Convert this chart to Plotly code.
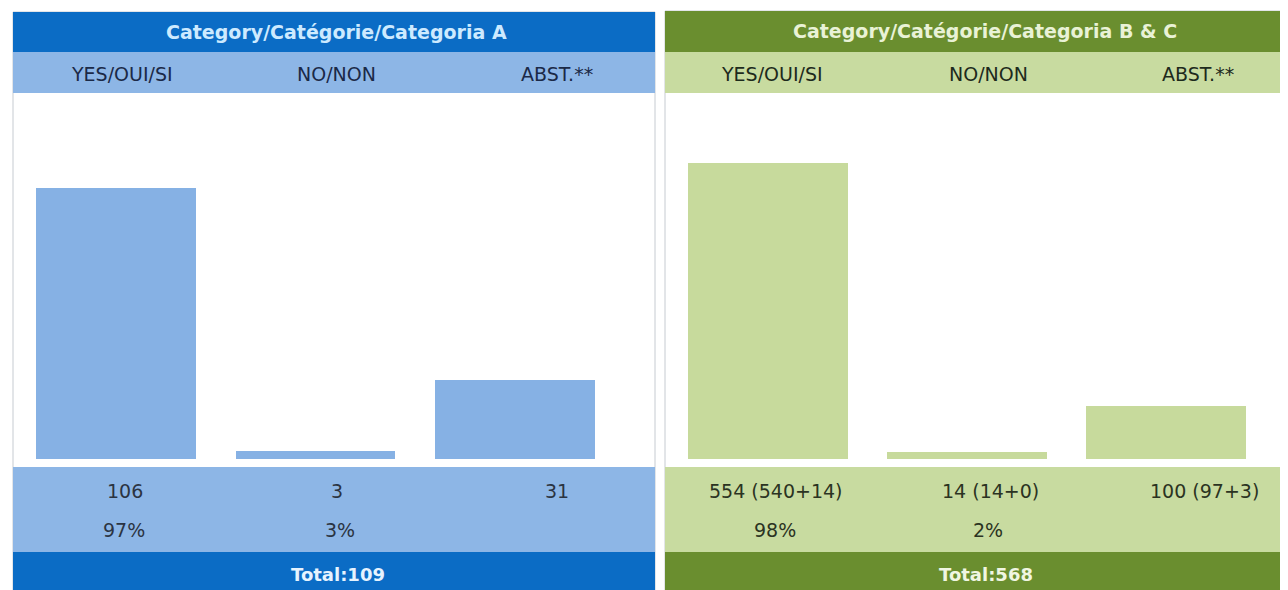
import plotly.graph_objects as go

# ---- data ----
categories = ["YES/OUI/SI", "NO/NON", "ABST.**"]
a_values = [106, 3, 31]
bc_values = [554, 14, 100]
a_value_labels = ["106", "3", "31"]
bc_value_labels = ["554 (540+14)", "14 (14+0)", "100 (97+3)"]
a_pct_labels = ["97%", "3%", ""]
bc_pct_labels = ["98%", "2%", ""]
a_title = "Category/Catégorie/Categoria A"
bc_title = "Category/Catégorie/Categoria B & C"
a_total = "Total:109"
bc_total = "Total:568"

# page body has an 8px margin; figure fills the rest of the 1288x590 window
OFF = 8
W, H = 1288 - OFF, 590 - OFF
FONT = "DejaVu Sans, Verdana, sans-serif"

BLUE_DARK = "#0b6cc5"
BLUE_LIGHT = "#8db6e6"
BLUE_BAR = "#86b1e4"
GREEN_DARK = "#6a8e2f"
GREEN_LIGHT = "#c8dba0"
GREEN_BAR = "#c7da9c"


def px(x):
    return (x - OFF) / W


def py(y):
    return 1 - (y - OFF) / H


fig = go.Figure()
fig.add_trace(go.Bar(x=categories, y=a_values, width=0.8, marker=dict(color=BLUE_BAR, line=dict(width=0)),
                     xaxis="x", yaxis="y", hoverinfo="x+y"))
fig.add_trace(go.Bar(x=categories, y=bc_values, width=0.8, marker=dict(color=GREEN_BAR, line=dict(width=0)),
                     xaxis="x2", yaxis="y2", hoverinfo="x+y"))

shapes = []
panels = [
    dict(x0=13, x1=655, dark=BLUE_DARK, light=BLUE_LIGHT, top=12),
    dict(x0=665, x1=1292, dark=GREEN_DARK, light=GREEN_LIGHT, top=11),
]
for p in panels:
    shapes.append(dict(type="rect", xref="paper", yref="paper", x0=px(p["x0"]), x1=px(p["x1"]),
                       y0=py(600), y1=py(p["top"]), fillcolor="white",
                       line=dict(color="#c6cbd1", width=1), layer="below"))
    shapes.append(dict(type="rect", xref="paper", yref="paper", x0=px(p["x0"]), x1=px(p["x1"]),
                       y0=py(52), y1=py(p["top"]), fillcolor=p["dark"], line=dict(width=0), layer="below"))
    shapes.append(dict(type="rect", xref="paper", yref="paper", x0=px(p["x0"]), x1=px(p["x1"]),
                       y0=py(93), y1=py(52), fillcolor=p["light"], line=dict(width=0), layer="below"))
    shapes.append(dict(type="rect", xref="paper", yref="paper", x0=px(p["x0"]), x1=px(p["x1"]),
                       y0=py(552), y1=py(467), fillcolor=p["light"], line=dict(width=0), layer="below"))
    shapes.append(dict(type="rect", xref="paper", yref="paper", x0=px(p["x0"]), x1=px(p["x1"]),
                       y0=py(600), y1=py(552), fillcolor=p["dark"], line=dict(width=0), layer="below"))

ann = []


def text(x, y, s, size=20, color="#1f2a40", bold=False):
    if bold:
        s = "<b>" + s + "</b>"
    ann.append(dict(xref="paper", yref="paper", x=px(x), y=py(y), text=s, showarrow=False,
                    xanchor="center", yanchor="middle",
                    font=dict(family=FONT, size=size, color=color)))


# Headers
text(336, 32, a_title, 19, "#cdeaff", True)
text(985, 31, bc_title, 19, "#e9f2d6", True)

# Subheaders
a_sub_x = [122, 336, 557]
bc_sub_x = [772, 988, 1198]
for i, c in enumerate(categories):
    text(a_sub_x[i], 74, c, 19, "#1b2947")
    text(bc_sub_x[i], 74, c, 19, "#1d2a1c")

# Value rows
a_val_x = [125, 337, 557]
bc_val_x = [776, 990, 1204]
a_pct_x = [124, 340, 557]
bc_pct_x = [775, 988, 1204]
for i in range(3):
    text(a_val_x[i], 491, a_value_labels[i], 19, "#2b3442")
    text(bc_val_x[i], 491, bc_value_labels[i], 19, "#2b3322")
    if a_pct_labels[i]:
        text(a_pct_x[i], 530, a_pct_labels[i], 19, "#2b3442")
    if bc_pct_labels[i]:
        text(bc_pct_x[i], 530, bc_pct_labels[i], 19, "#2b3322")

# Totals
text(338, 574, a_total, 18, "#e6f3ff", True)
text(986, 574, bc_total, 18, "#f0f6e2", True)

ax_common = dict(showgrid=False, zeroline=False, showticklabels=False, showline=False, ticks="",
                 fixedrange=True)

fig.update_layout(
    width=W, height=H,
    margin=dict(l=0, r=0, t=0, b=0),
    paper_bgcolor="white", plot_bgcolor="rgba(0,0,0,0)",
    showlegend=False,
    bargap=0,
    shapes=shapes,
    annotations=ann,
    xaxis=dict(domain=[px(13), px(655)], range=[(13 - 116) / 199.5, (655 - 116) / 199.5],
               type="category", **ax_common),
    yaxis=dict(domain=[py(459), py(93)], range=[0, 366 / (271 / 106)], anchor="x", **ax_common),
    xaxis2=dict(domain=[px(665), 1.0], range=[(665 - 768) / 199.0, (1288 - 768) / 199.0],
                type="category", anchor="y2", **ax_common),
    yaxis2=dict(domain=[py(459), py(93)], range=[0, 366 / (296 / 554)], anchor="x2", **ax_common),
)

fig.write_html("out.html")
